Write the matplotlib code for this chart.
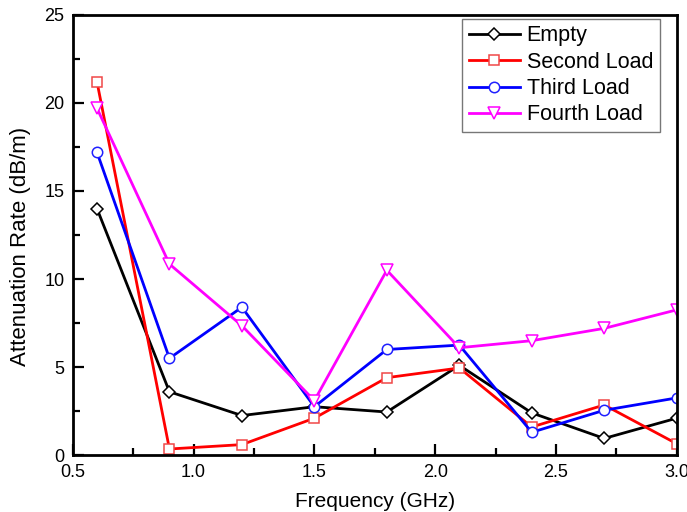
import matplotlib
matplotlib.use('Agg')
import matplotlib.pyplot as plt
from matplotlib.ticker import MultipleLocator, FormatStrFormatter

plt.rcParams['font.family'] = ['Liberation Sans', 'DejaVu Sans']

freq = [0.6, 0.9, 1.2, 1.5, 1.8, 2.1, 2.4, 2.7, 3.0]
empty = [14.0, 3.6, 2.25, 2.75, 2.45, 5.1, 2.4, 0.95, 2.1]
second_load = [21.2, 0.35, 0.6, 2.1, 4.4, 4.95, 1.6, 2.85, 0.65]
third_load = [17.2, 5.5, 8.4, 2.75, 6.0, 6.25, 1.3, 2.55, 3.25]
fourth_load = [19.7, 10.85, 7.35, 3.1, 10.5, 6.1, 6.5, 7.2, 8.25]

# name, values, line colour, marker, marker size, marker edge colour
series = [
    ('Empty', empty, 'black', 'D', 6.5, 'black'),
    ('Second Load', second_load, '#ff0000', 's', 7, '#f04848'),
    ('Third Load', third_load, '#0000ff', 'o', 7.5, '#2020ff'),
    ('Fourth Load', fourth_load, '#ff00ff', 'v', 9, '#ff00ff'),
]

fig = plt.figure(figsize=(6.87, 5.12), dpi=100)
ax = fig.add_axes([0.106, 0.111, 0.879, 0.860])

for name, vals, col, mk, ms, ec in series:
    ax.plot(freq, vals, color=col, linewidth=2, marker=mk, markersize=ms,
            markerfacecolor='white', markeredgecolor=ec, markeredgewidth=1.1, label=name)

ax.set_xlim(0.5, 3.0)
ax.set_ylim(0, 25)
ax.xaxis.set_major_locator(MultipleLocator(0.5))
ax.xaxis.set_minor_locator(MultipleLocator(0.25))
ax.xaxis.set_major_formatter(FormatStrFormatter('%.1f'))
ax.yaxis.set_major_locator(MultipleLocator(5))
ax.yaxis.set_minor_locator(MultipleLocator(2.5))
ax.tick_params(which='both', direction='in', top=False, right=False, width=1.6, labelsize=13)
ax.tick_params(which='major', length=8, pad=6)
ax.tick_params(which='minor', length=5)
for s in ax.spines.values():
    s.set_linewidth(2)

ax.set_xlabel('Frequency (GHz)', fontsize=15, labelpad=8)
ax.set_ylabel('Attenuation Rate (dB/m)', fontsize=16)
ax.yaxis.set_label_coords(-0.07, 0.473)

leg = ax.legend(loc='upper right', bbox_to_anchor=(1 - 17 / 604, 1 - 4 / 440),
                fontsize=15.5, frameon=True, fancybox=False, borderaxespad=0,
                handlelength=2.4, handletextpad=0.3, labelspacing=0.25,
                borderpad=0.3)
leg.get_frame().set_edgecolor('#555555')
leg.get_frame().set_linewidth(1.0)

plt.savefig('out.png', dpi=100)
plt.close()
